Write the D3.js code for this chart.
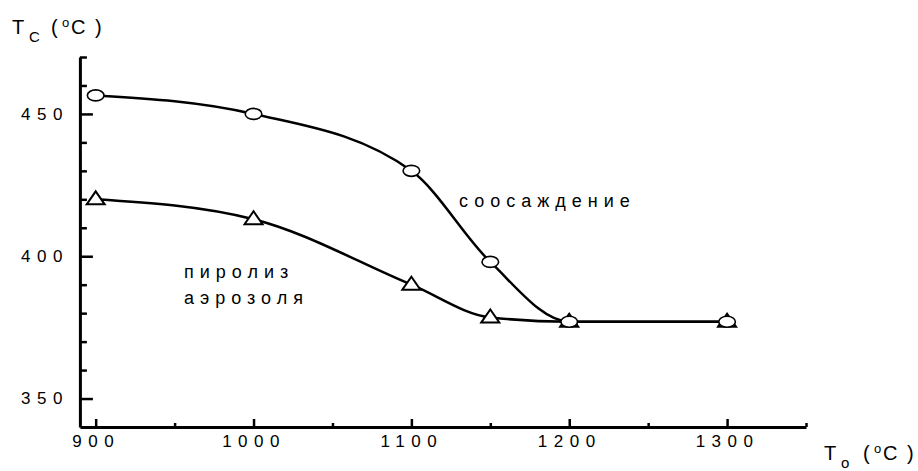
<!DOCTYPE html>
<html>
<head>
<meta charset="utf-8">
<title>Tc vs To</title>
<style type="text/css">
* { margin: 0; padding: 0; }
body { background: #fff; }
svg text { font-family: "Liberation Sans", Arial, sans-serif; fill: #000; }
.tick text { font-size: 17px; letter-spacing: 6.5px; }
.lbl { font-size: 18px; letter-spacing: 6px; }
</style>
<script src="https://cdn.jsdelivr.net/npm/d3@7"></script>
</head>
<body>
<div id="chart"></div>
<script type="text/javascript">
// annealing temperature, °C
var tempAnneal = [900, 1000, 1100, 1150, 1200, 1300];
// Tc, coprecipitation (circles)
var coprecip = [456.5, 450, 430, 398, 377, 377];
// Tc, aerosol pyrolysis (triangles)
var pyrolysis = [420, 413, 390, 378.5, 377, 377];

var xMajor = [900, 1000, 1100, 1200, 1300];
var xMinor = [950, 1050, 1150, 1250, 1350];
var yMajor = [350, 400, 450];
var yMinor = [360, 370, 380, 390, 410, 420, 430, 440, 460, 470];

var W = 918, H = 471;

var svg = d3.select("#chart").append("svg")
  .attr("width", W).attr("height", H);

var x = d3.scaleLinear().domain([890, 1350]).range([79.9, 806]);
var y = d3.scaleLinear().domain([340, 470]).range([427, 57]);

// y axis
svg.append("g").attr("transform", "translate(" + x(890) + ",0)")
  .call(d3.axisLeft(y).tickValues(yMinor).tickSize(-7).tickSizeOuter(0).tickFormat(""))
  .call(function(g) { g.select(".domain").remove(); });
svg.append("g").attr("class", "yax").attr("transform", "translate(" + x(890) + ",0)")
  .call(d3.axisLeft(y).tickValues(yMajor).tickSize(-13).tickSizeOuter(0).tickPadding(11)
    .tickFormat(d3.format("d")));

// x axis
svg.append("g").attr("transform", "translate(0," + y(340) + ")")
  .call(d3.axisBottom(x).tickValues(xMinor).tickSize(-4).tickSizeOuter(0).tickFormat(""))
  .call(function(g) { g.select(".domain").remove(); });
svg.append("g").attr("class", "xax").attr("transform", "translate(0," + y(340) + ")")
  .call(d3.axisBottom(x).tickValues(xMajor).tickSize(-8).tickSizeOuter(0).tickPadding(8)
    .tickFormat(d3.format("d")));

svg.selectAll(".domain").attr("stroke-width", 3).attr("stroke", "#000");
svg.selectAll(".tick line").attr("stroke-width", 2.5).attr("stroke", "#000");
svg.selectAll(".tick text").attr("font-family", null).attr("font-size", null);

// axis titles: T_sub (°C)
function axisTitle(x0, base, sub) {
  var g = svg.append("g");
  g.append("text").attr("x", x0).attr("y", base).attr("font-size", 20).text("T");
  g.append("text").attr("x", x0 + 17).attr("y", base + 8).attr("font-size", 15).text(sub);
  g.append("text").attr("x", x0 + 39).attr("y", base).attr("font-size", 20).text("(");
  g.append("text").attr("x", x0 + 50).attr("y", base - 7).attr("font-size", 13).text("o");
  g.append("text").attr("x", x0 + 59).attr("y", base).attr("font-size", 20).text("C");
  g.append("text").attr("x", x0 + 83).attr("y", base).attr("font-size", 20).text(")");
}
axisTitle(12, 34, "C");
axisTitle(824, 460, "o");

// curves
var line = d3.line().curve(d3.curveMonotoneX);

function series(vals, marker) {
  var pts = tempAnneal.map(function(t, i) { return [x(t), y(vals[i])]; });
  svg.append("path").attr("d", line(pts))
    .attr("fill", "none").attr("stroke", "#000").attr("stroke-width", 2.5);
  if (marker == "circle") {
    svg.selectAll(null).data(pts).enter().append("ellipse")
      .attr("cx", function(d) { return d[0]; })
      .attr("cy", function(d) { return d[1]; })
      .attr("rx", 8.3).attr("ry", 5.5)
      .attr("fill", "#fff").attr("stroke", "#000").attr("stroke-width", 1.6);
  } else {
    svg.selectAll(null).data(pts).enter().append("path")
      .attr("d", function(d) {
        return "M" + (d[0] - 9) + "," + (d[1] + 5) + "L" + d[0] + "," + (d[1] - 8) +
          "L" + (d[0] + 9) + "," + (d[1] + 5) + "Z";
      })
      .attr("fill", "#fff").attr("stroke", "#000").attr("stroke-width", 2)
      .attr("stroke-linejoin", "miter");
  }
}

series(pyrolysis, "triangle");
series(coprecip, "circle");

// curve labels
svg.append("text").attr("class", "lbl").attr("x", 459).attr("y", 207).text("соосаждение");
svg.append("text").attr("class", "lbl").attr("x", 184).attr("y", 278).text("пиролиз");
svg.append("text").attr("class", "lbl").attr("x", 184).attr("y", 304).text("аэрозоля");
</script>
</body>
</html>
